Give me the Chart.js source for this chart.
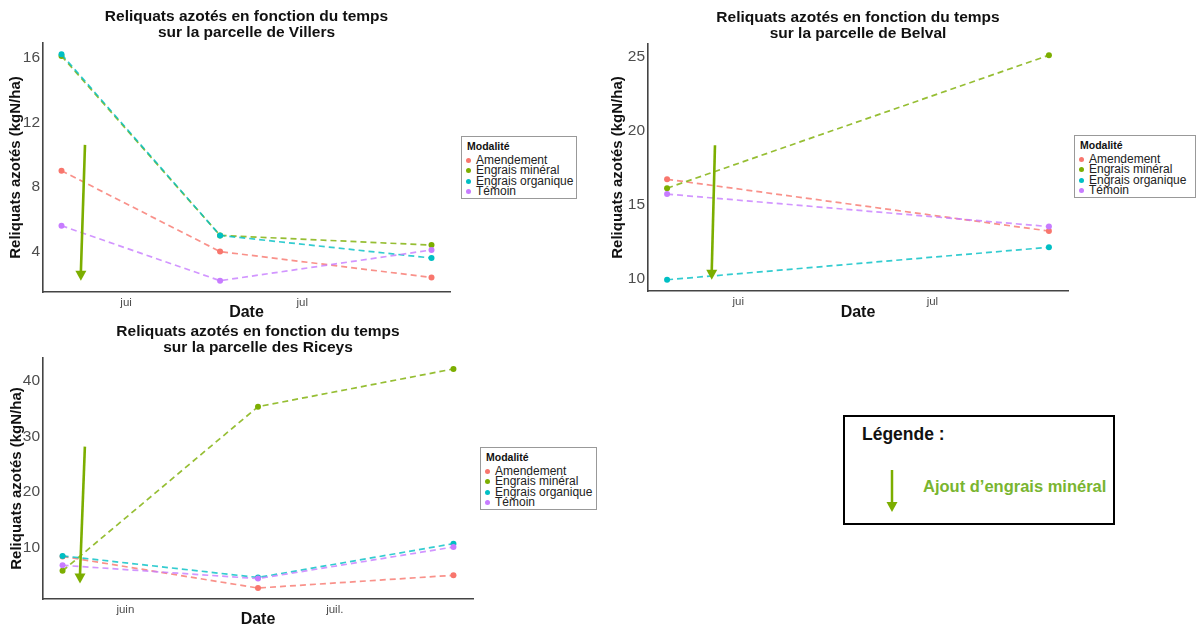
<!DOCTYPE html>
<html lang="fr">
<head>
<meta charset="utf-8">
<script src="https://cdn.jsdelivr.net/npm/chart.js@4.4.1/dist/chart.umd.min.js"></script>
<style>
  body { margin: 0; width: 1199px; height: 630px; background: #fff; position: relative; overflow: hidden;
         font-family: "Liberation Sans", Arial, sans-serif; }
  canvas, .legend, .note { position: absolute; }
  .legend { border: 1.5px solid #999; box-sizing: border-box; height: 63px; background: #fff; }
  .legend .ttl { position: absolute; left: 5px; top: 3px; font-weight: bold; font-size: 10.5px; color: #111; }
  .legend .item { position: absolute; left: 0; height: 11px; line-height: 11px; font-size: 12px; color: #222; white-space: nowrap; }
  .legend .dot { position: absolute; left: 4px; top: 3px; width: 5px; height: 5px; border-radius: 50%; }
  .legend .lab { position: absolute; left: 14px; top: 0; }
  .note { left: 843px; top: 415px; width: 272px; height: 110px; border: 2px solid #000; box-sizing: border-box; }
  .note .head { position: absolute; left: 17px; top: 7px; font-weight: bold; font-size: 17.5px; color: #111; }
  .note .txt { position: absolute; left: 78px; top: 60px; font-weight: bold; font-size: 16.5px; color: #79b530; white-space: nowrap; }
  .note svg { position: absolute; left: 38px; top: 50px; }
</style>
</head>
<body>
<canvas id="villers" width="460" height="322" style="left:0px;top:0px"></canvas>
<canvas id="belval" width="476" height="322" style="left:602px;top:0px"></canvas>
<canvas id="riceys" width="482" height="309" style="left:1px;top:320px"></canvas>
<div class="note">
  <div class="head">Légende :</div>
  <svg width="20" height="50" viewBox="0 0 20 50">
    <line x1="9" y1="3" x2="9" y2="36" stroke="#7cae00" stroke-width="2.5"/>
    <polygon points="3.5,35 14.5,35 9,45" fill="#7cae00"/>
  </svg>
  <div class="txt">Ajout d’engrais minéral</div>
</div>
<script>
const seriesNames = ['Amendement', 'Engrais minéral', 'Engrais organique', 'Témoin'];
const seriesColors = ['#F8766D', '#7CAE00', '#00BFC4', '#C77CFF'];
const arrowColor = '#7CAE00';

// jours comptés depuis le 1er juin
const villersDays = [-11, 16, 52];
const villersAmendement = [9.0, 4.0, 2.4];
const villersMineral = [16.1, 5.0, 4.4];
const villersOrganique = [16.2, 5.0, 3.6];
const villersTemoin = [5.6, 2.2, 4.1];
const villersYTicks = [4, 8, 12, 16];
const villersXTicks = [0, 30];
const villersXLabels = ['jui', 'jul'];
const villersAjout = [-7.0, 10.6, -7.7, 2.2]; // jour, valeur (haut) -> jour, valeur (pointe)

const belvalDays = [-11, 48];
const belvalAmendement = [16.7, 13.2];
const belvalMineral = [16.1, 25.1];
const belvalOrganique = [9.9, 12.1];
const belvalTemoin = [15.7, 13.5];
const belvalYTicks = [10, 15, 20, 25];
const belvalXTicks = [0, 30];
const belvalXLabels = ['jui', 'jul'];
const belvalAjout = [-3.6, 19.0, -4.1, 9.9];

const riceysDays = [-9, 19, 47];
const riceysAmendement = [8.4, 2.7, 5.0];
const riceysMineral = [5.8, 35.4, 42.2];
const riceysOrganique = [8.5, 4.6, 10.7];
const riceysTemoin = [6.8, 4.4, 10.1];
const riceysYTicks = [10, 20, 30, 40];
const riceysXTicks = [0, 30];
const riceysXLabels = ['juin', 'juil.'];
const riceysAjout = [-5.8, 28.2, -6.5, 3.5];

Chart.defaults.font.family = '"Liberation Sans", Arial, sans-serif';

// ggplot style range: data range widened by 5% on each side
function expand(values) {
  const lo = Math.min(...values), hi = Math.max(...values);
  const pad = (hi - lo) * 0.05;
  return [lo - pad, hi + pad];
}

const titlePlugin = {
  id: 'panelTitle',
  afterDraw(chart, args, opts) {
    const { ctx, chartArea } = chart;
    const cx = (chartArea.left + chartArea.right) / 2;
    ctx.save();
    ctx.font = 'bold 15.5px "Liberation Sans", Arial, sans-serif';
    ctx.fillStyle = '#111';
    ctx.textAlign = 'center';
    ctx.textBaseline = 'middle';
    const n = opts.lines.length;
    opts.lines.forEach((t, i) => {
      ctx.fillText(t, cx, chartArea.top - 10 - (n - 1 - i) * 16.5);
    });
    ctx.restore();
  }
};

const arrowPlugin = {
  id: 'ajout',
  afterDatasetsDraw(chart, args, opts) {
    const { ctx, scales: { x, y } } = chart;
    const [d0, v0, d1, v1] = opts.arrow;
    const x0 = x.getPixelForValue(d0), y0 = y.getPixelForValue(v0);
    const x1 = x.getPixelForValue(d1), y1 = y.getPixelForValue(v1);
    ctx.save();
    ctx.strokeStyle = arrowColor;
    ctx.fillStyle = arrowColor;
    ctx.lineWidth = 2.6;
    ctx.beginPath();
    ctx.moveTo(x0, y0);
    ctx.lineTo(x1, y1 - 9);
    ctx.stroke();
    ctx.beginPath();
    ctx.moveTo(x1 - 5.5, y1 - 10);
    ctx.lineTo(x1 + 5.5, y1 - 10);
    ctx.lineTo(x1, y1);
    ctx.closePath();
    ctx.fill();
    ctx.restore();
  }
};

function makeChart(id, cfg) {
  const all = [].concat(...cfg.series);
  const [ymin, ymax] = expand(all);
  const [xmin, xmax] = expand(cfg.days);
  const datasets = cfg.series.map((vals, i) => ({
    label: seriesNames[i],
    data: vals.map((v, k) => ({ x: cfg.days[k], y: v })),
    borderColor: seriesColors[i] + 'CC',
    backgroundColor: seriesColors[i],
    borderWidth: 1.7,
    borderDash: [6, 4],
    pointRadius: 3,
    pointBorderWidth: 0,
    pointBackgroundColor: seriesColors[i],
    order: seriesNames.length - i
  }));
  return new Chart(document.getElementById(id), {
    type: 'line',
    data: { datasets },
    options: {
      responsive: false,
      animation: false,
      events: [],
      layout: { padding: { left: 0, right: cfg.padRight, top: cfg.padTop, bottom: 0 } },
      plugins: {
        legend: { display: false },
        tooltip: { enabled: false },
        panelTitle: { lines: cfg.title },
        ajout: { arrow: cfg.arrow }
      },
      scales: {
        x: {
          type: 'linear',
          min: xmin,
          max: xmax,
          afterBuildTicks: (ax) => { ax.ticks = cfg.xTicks.map(v => ({ value: v })); },
          afterFit: (ax) => { ax.height = cfg.xAxisH; },
          grid: { display: false, drawTicks: false },
          border: { display: true, color: '#444', width: 1.6 },
          ticks: {
            padding: 4,
            color: '#4d4d4d',
            font: { size: 11.5 },
            maxRotation: 0,
            callback: (v, i) => cfg.xLabels[i]
          },
          title: {
            display: true,
            text: 'Date',
            color: '#111',
            font: { size: 16, weight: 'bold' },
            padding: { top: 0, bottom: 0 }
          }
        },
        y: {
          type: 'linear',
          min: ymin,
          max: ymax,
          afterBuildTicks: (ax) => { ax.ticks = cfg.yTicks.map(v => ({ value: v })); },
          afterFit: (ax) => { ax.width = cfg.yAxisW; },
          grid: { display: false, drawTicks: false },
          border: { display: true, color: '#444', width: 1.6 },
          ticks: { padding: 3, color: '#4d4d4d', font: { size: 15.5 } },
          title: {
            display: true,
            text: 'Reliquats azotés (kgN/ha)',
            color: '#111',
            font: { size: 15, weight: 'bold' },
            padding: { top: 7, bottom: 0 }
          }
        }
      }
    },
    plugins: [titlePlugin, arrowPlugin]
  });
}

makeChart('villers', {
  days: villersDays,
  series: [villersAmendement, villersMineral, villersOrganique, villersTemoin],
  yTicks: villersYTicks, xTicks: villersXTicks, xLabels: villersXLabels,
  arrow: villersAjout,
  title: ['Reliquats azotés en fonction du temps', 'sur la parcelle de Villers'],
  yAxisW: 43, xAxisH: 30, padTop: 43, padRight: 10
});

makeChart('belval', {
  days: belvalDays,
  series: [belvalAmendement, belvalMineral, belvalOrganique, belvalTemoin],
  yTicks: belvalYTicks, xTicks: belvalXTicks, xLabels: belvalXLabels,
  arrow: belvalAjout,
  title: ['Reliquats azotés en fonction du temps', 'sur la parcelle de Belval'],
  yAxisW: 46, xAxisH: 31, padTop: 44, padRight: 10
});

makeChart('riceys', {
  days: riceysDays,
  series: [riceysAmendement, riceysMineral, riceysOrganique, riceysTemoin],
  yTicks: riceysYTicks, xTicks: riceysXTicks, xLabels: riceysXLabels,
  arrow: riceysAjout,
  title: ['Reliquats azotés en fonction du temps', 'sur la parcelle des Riceys'],
  yAxisW: 42, xAxisH: 30, padTop: 38, padRight: 10
});

// légendes "Modalité"
function makeLegend(left, top, width) {
  const box = document.createElement('div');
  box.className = 'legend';
  box.style.left = left + 'px';
  box.style.top = top + 'px';
  box.style.width = width + 'px';
  let html = '<div class="ttl">Modalité</div>';
  seriesNames.forEach((name, i) => {
    html += '<div class="item" style="top:' + (18 + i * 10.4) + 'px">' +
      '<span class="dot" style="background:' + seriesColors[i] + '"></span>' +
      '<span class="lab">' + name + '</span></div>';
  });
  box.innerHTML = html;
  document.body.appendChild(box);
}
makeLegend(461, 136, 116);
makeLegend(1074, 135, 122);
makeLegend(480, 447, 117);
</script>
</body>
</html>
